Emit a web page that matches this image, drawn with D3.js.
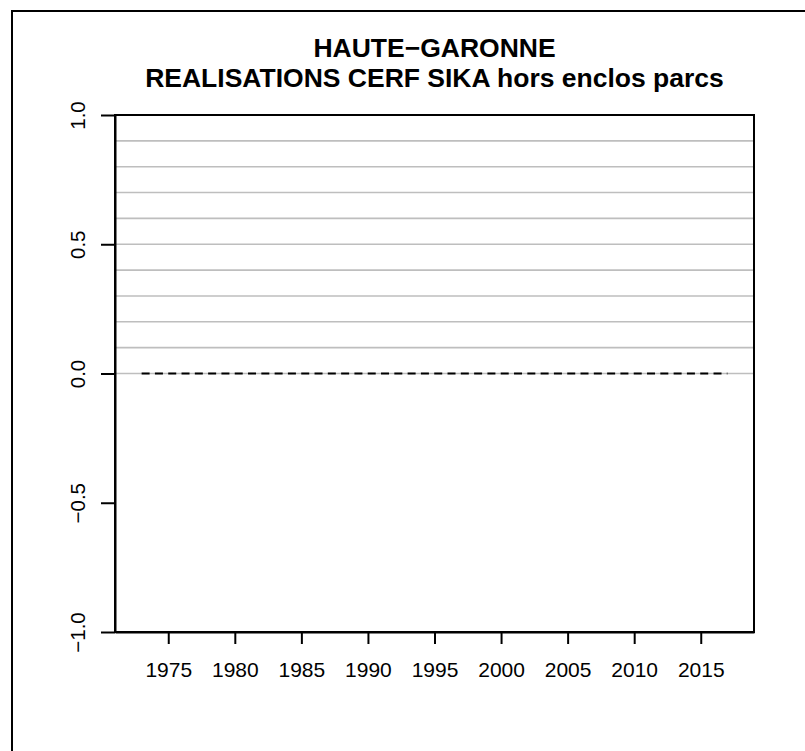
<!DOCTYPE html>
<html>
<head>
<meta charset="utf-8">
<script src="https://cdn.jsdelivr.net/npm/d3@7"></script>
<style>
  body { margin: 0; background: #fff; }
  text { font-family: "Liberation Sans", Arial, Helvetica, sans-serif; }
</style>
</head>
<body>
<div id="chart"></div>
<script>
"use strict";

// chart data
const titleLines = ["HAUTE\u2212GARONNE", "REALISATIONS CERF SIKA hors enclos parcs"];
const years = [1973, 1974, 1975, 1976, 1977, 1978, 1979, 1980, 1981, 1982, 1983, 1984,
    1985, 1986, 1987, 1988, 1989, 1990, 1991, 1992, 1993, 1994, 1995, 1996, 1997,
    1998, 1999, 2000, 2001, 2002, 2003, 2004, 2005, 2006, 2007, 2008, 2009, 2010,
    2011, 2012, 2013, 2014, 2015, 2016, 2017];
const realisations = years.map(() => 0); // nothing recorded: every year is 0
const xTicks = [1975, 1980, 1985, 1990, 1995, 2000, 2005, 2010, 2015];
const yTicks = [-1.0, -0.5, 0.0, 0.5, 1.0];
const yTickLabels = ["\u22121.0", "\u22120.5", "0.0", "0.5", "1.0"];
const gridValues = [0.0, 0.1, 0.2, 0.3, 0.4, 0.5, 0.6, 0.7, 0.8, 0.9];
const xDomain = [1971, 2019];
const yDomain = [-1, 1];

const msm = {
    width: 805,
    height: 751,
    left: 115,
    right: 754,
    top: 115,
    bottom: 632
}

let svg = d3.select("#chart")
    .append("svg")
    .attr("width", msm.width)
    .attr("height", msm.height);

// outer frame (runs off the right and bottom edges)
svg.append("rect")
    .attr("x", 12)
    .attr("y", 11)
    .attr("width", 830)
    .attr("height", 800)
    .attr("fill", "none")
    .attr("stroke", "#000")
    .attr("stroke-width", 2);

let xScale = d3.scaleLinear().domain(xDomain).range([msm.left, msm.right]);
let yScale = d3.scaleLinear().domain(yDomain).range([msm.bottom, msm.top]);

// grey reference lines
svg.selectAll(".grid")
    .data(gridValues)
    .enter()
    .append("line")
    .attr("class", "grid")
    .attr("x1", msm.left)
    .attr("x2", msm.right)
    .attr("y1", d => yScale(d))
    .attr("y2", d => yScale(d))
    .attr("stroke", "#bebebe")
    .attr("stroke-width", 1.6);

// series, dashed
let line = d3.line()
    .x((d, i) => xScale(years[i]))
    .y(d => yScale(d));

svg.append("path")
    .datum(realisations)
    .attr("d", line)
    .attr("fill", "none")
    .attr("stroke", "#000")
    .attr("stroke-width", 2)
    .attr("stroke-dasharray", "8,5.3");

// plot box
svg.append("rect")
    .attr("x", msm.left)
    .attr("y", msm.top)
    .attr("width", msm.right - msm.left)
    .attr("height", msm.bottom - msm.top)
    .attr("fill", "none")
    .attr("stroke", "#000")
    .attr("stroke-width", 2);

// x axis
let xAxis = d3.axisBottom(xScale)
    .tickValues(xTicks)
    .tickFormat(d3.format("d"))
    .tickSize(12)
    .tickSizeOuter(0);
let gx = svg.append("g")
    .attr("transform", "translate(0," + msm.bottom + ")")
    .call(xAxis);
gx.select(".domain").attr("stroke-width", 2);
gx.selectAll(".tick line").attr("stroke-width", 2);
gx.selectAll(".tick text")
    .attr("y", 45)
    .attr("dy", null)
    .style("font-size", "21px")
    .attr("fill", "#000");

// y axis, labels rotated like R
let yAxis = d3.axisLeft(yScale)
    .tickValues(yTicks)
    .tickFormat((d, i) => yTickLabels[i])
    .tickSize(14)
    .tickSizeOuter(0);
let gy = svg.append("g")
    .attr("transform", "translate(" + msm.left + ",0)")
    .call(yAxis);
gy.select(".domain").attr("stroke-width", 2);
gy.selectAll(".tick line").attr("stroke-width", 2);
gy.selectAll(".tick text")
    .attr("x", null)
    .attr("dy", null)
    .attr("transform", "translate(-30,0) rotate(-90)")
    .attr("text-anchor", "middle")
    .style("font-size", "20.5px")
    .attr("fill", "#000");

// title
svg.selectAll(".title")
    .data(titleLines)
    .enter()
    .append("text")
    .attr("class", "title")
    .attr("x", (msm.left + msm.right) / 2)
    .attr("y", (d, i) => 57 + i * 30)
    .attr("text-anchor", "middle")
    .style("font-size", "26.5px")
    .style("font-weight", "bold")
    .text(d => d);
</script>
</body>
</html>
